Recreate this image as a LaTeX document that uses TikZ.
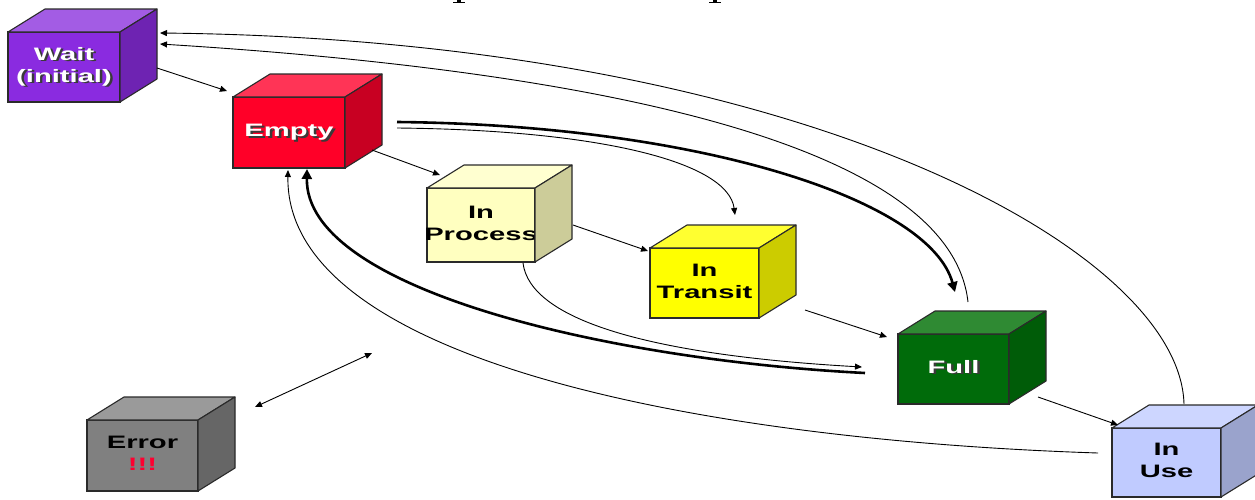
\documentclass[tikz,border=0pt]{standalone}
\usepackage{fontspec}
\setmainfont{Liberation Sans}
\usepackage{graphicx}
\usetikzlibrary{arrows.meta,calc}

% face colours of the cubes: F = front, T = top, S = side
\definecolor{waitF}{HTML}{8A2BE0}\definecolor{waitT}{HTML}{A35CE4}\definecolor{waitS}{HTML}{6E23B2}
\definecolor{emptyF}{HTML}{FF0028}\definecolor{emptyT}{HTML}{FF3456}\definecolor{emptyS}{HTML}{C80022}
\definecolor{procF}{HTML}{FFFFC0}\definecolor{procT}{HTML}{FFFFD0}\definecolor{procS}{HTML}{CCCC99}
\definecolor{tranF}{HTML}{FFFF00}\definecolor{tranT}{HTML}{FFFF30}\definecolor{tranS}{HTML}{CCCC00}
\definecolor{fullF}{HTML}{006B0A}\definecolor{fullT}{HTML}{2F8A33}\definecolor{fullS}{HTML}{005C08}
\definecolor{useF}{HTML}{C0CBFF}\definecolor{useT}{HTML}{CDD6FF}\definecolor{useS}{HTML}{9AA3CC}
\definecolor{errF}{HTML}{808080}\definecolor{errT}{HTML}{9A9A9A}\definecolor{errS}{HTML}{666666}
\definecolor{edgec}{HTML}{2A2A2A}
\definecolor{shadowc}{HTML}{3A3A3A}
\definecolor{alarm}{HTML}{FF0030}

% white lettering with a dark drop shadow
\newcommand\wtxt[1]{\makebox[0pt][l]{\kern1.5pt\raisebox{-1.5pt}{\textcolor{shadowc}{#1}}}\textcolor{white}{#1}}
% wide, centred block of label lines
\newcommand\lines[1]{\makebox[0pt]{\scalebox{1.62}[1]{\begin{tabular}{@{}c@{}}#1\end{tabular}}}}
% a cube: name, centre, front width, front height, colour prefix, label
\newcommand\cubebox[6]{%
  \node[face, minimum width=#3pt, minimum height=#4pt, fill=#5F] (#1) at (#2) {#6};
  \filldraw[cubeedge, fill=#5T] (#1.north west) -- ++(37,-23) -- ($(#1.north east)+(37,-23)$) -- (#1.north east) -- cycle;
  \filldraw[cubeedge, fill=#5S] (#1.north east) -- ++(37,-23) -- ($(#1.south east)+(37,-23)$) -- (#1.south east) -- cycle;
}

\begin{document}
\begin{tikzpicture}[x=1pt,y=-1pt,
  face/.style={draw=edgec, line width=1.1pt, inner sep=0pt, outer sep=0pt,
    font=\fontsize{18}{22}\selectfont\bfseries},
  cubeedge/.style={draw=edgec, line width=1.1pt, line join=round},
  thinlink/.style={line width=0.9pt, -{Triangle[length=7pt,width=6pt]}},
  thinline/.style={line width=0.9pt},
  twoway/.style={line width=0.9pt, {Triangle[length=7pt,width=6pt]}-{Triangle[length=7pt,width=6pt]}},
  thicklink/.style={line width=2.6pt, -{Triangle[length=10pt,width=10pt]}},
  thickline/.style={line width=2.6pt},
]
\fill[white] (0,0) rectangle (1255,499);
\useasboundingbox (0,0) rectangle (1255,499);

% remnants of the heading along the top edge
\fill (457,0) rectangle (461,2);
\fill (453,1.8) rectangle (465,3);
\fill (713,0) rectangle (717,2);
\fill (709,1.8) rectangle (721,3);

% the cubes
\cubebox{wait}{64,67}{112}{70}{wait}{\lines{\wtxt{Wait}\\\wtxt{(initial)}}}
\cubebox{empty}{289,132.5}{112}{71}{empty}{\lines{\wtxt{Empty}}}
\cubebox{proc}{481,225}{108}{74}{proc}{\lines{In\\Process}}
\cubebox{tran}{704.5,283}{109}{70}{tran}{\lines{In\\Transit}}
\cubebox{full}{953.5,369}{111}{70}{full}{\lines{\wtxt{Full}}}
\cubebox{use}{1166.5,462.5}{109}{69}{use}{\lines{In\\Use}}
\cubebox{err}{142.5,455.5}{111}{71}{err}{\lines{Error\\\textcolor{alarm}{!!!}}}

% straight steps
\draw[thinlink] ($(wait.east)+(37,1)$) -- ($(empty.north west)+(-6,-6)$);
\draw[thinlink] ($(empty.east)+(27,17.5)$) -- ($(proc.north west)+(13,-13)$);
\draw[thinlink] ($(proc.east)+(38,0)$) -- ($(tran.north west)+(-2,3)$);
\draw[thinlink] ($(tran.east)+(46,27)$) -- ($(full.north west)+(-11,3)$);
\draw[thinlink] ($(full.east)+(29,28)$) -- ($(use.north west)+(6,-3)$);

% error link
\coordinate (errtip) at (372,353);
\draw[twoway] ($(err.north east)+(57,-13)$) -- (errtip);

% upper arcs
\draw[thicklink] ($(empty.east)+(52,-10.5)$) .. controls (700,125) and (930,200) .. ($(full.north)+(1.5,-42)$);
\draw[thinlink] ($(empty.east)+(52,-4.5)$) .. controls (600,130) and (728,162) .. ($(tran.north)+(30.5,-33)$);
\draw[thinlink] ($(full.north)+(14.5,-32)$) .. controls (950,140) and (580,70) .. ($(wait.east)+(40,-23)$);
\draw[thinlink] ($(use.north)+(17.5,-24)$) .. controls (1180,250) and (800,40) .. ($(wait.east)+(40,-34)$);

% lower arcs
\draw[thicklink] ($(full.west)+(-33,4)$) .. controls (610,360) and (305,290) .. ($(empty.south)+(18,1)$);
\draw[thinlink] ($(proc.south)+(42,1)$) .. controls (530,320) and (650,355) .. ($(full.west)+(-36,-2)$);
\draw[thinlink] ($(use.west)+(-14,-9.5)$) .. controls (700,440) and (285,360) .. ($(empty.south)+(-1,2)$);
\end{tikzpicture}
\end{document}
